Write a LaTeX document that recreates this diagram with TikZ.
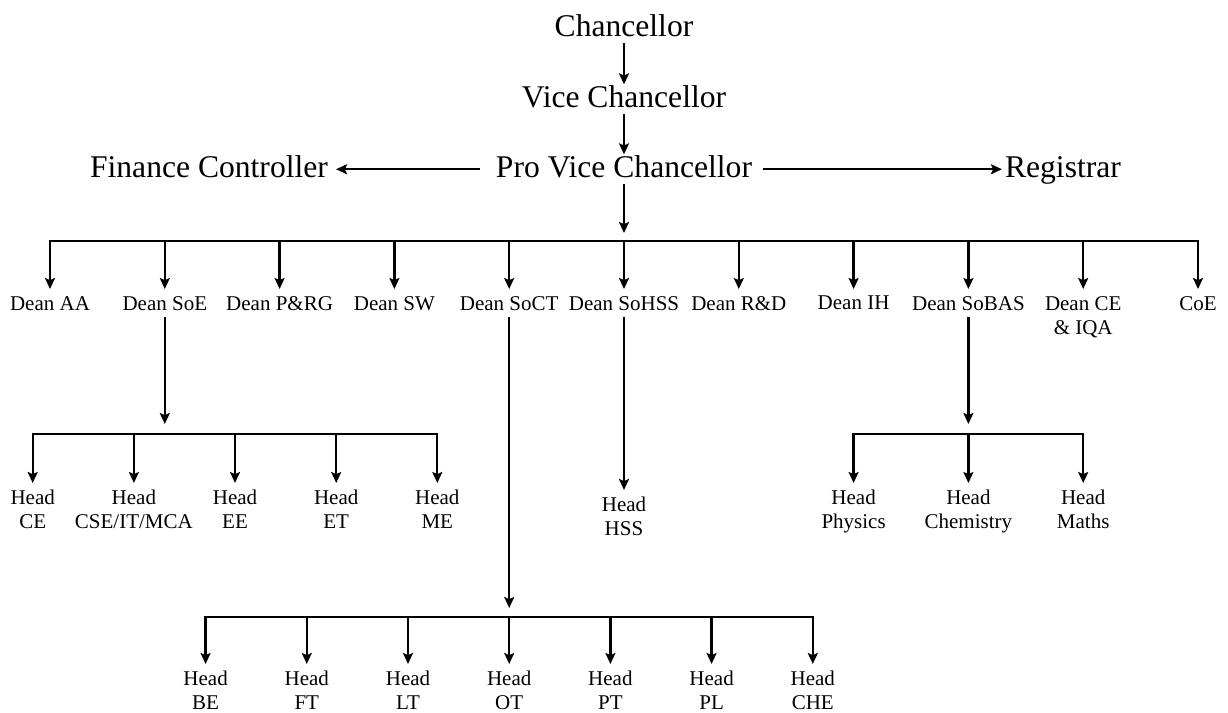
\documentclass[tikz,border=0pt]{standalone}
\usepackage{fontspec}
\setmainfont{Liberation Serif}
\usepackage{tikz}
\usetikzlibrary{positioning, arrows.meta}

\begin{document}
\begin{tikzpicture}
	[x=0.5pt, y=-0.5pt, line width=1.15pt, >={Stealth[length=5.5pt,width=5pt,inset=1.1pt]},
	 on grid, node distance=35.5pt,
	 officer/.style={font=\fontsize{15.8}{18}\selectfont, inner sep=0pt, text height=10.75pt, text depth=3pt},
	 unit/.style={font=\fontsize{10.5}{12}\selectfont, align=center, anchor=north, inner sep=3pt},
	 bus/.style={line cap=rect}]
   \useasboundingbox (0,0) rectangle (1228,713);
   % top of the chart
   \node[officer] (chan) at (624,28.25) {Chancellor};
   \node[officer] (vc)  [below=of chan] {Vice Chancellor};
   \node[officer] (pvc) [below=35pt of vc] {Pro Vice Chancellor};
   \node[officer] (fc)  [left=207.5pt of pvc] {Finance Controller};
   \node[officer] (reg) [right=219.5pt of pvc] {Registrar};
   % deans
   \node[unit] (aa)    at (50,289)     {Dean AA};
   \node[unit] (soe)   at (164.8,289)  {Dean SoE};
   \node[unit] (prg)   at (279.6,289)  {Dean P\&RG};
   \node[unit] (sw)    at (394.4,289)  {Dean SW};
   \node[unit] (soct)  at (509.2,289)  {Dean SoCT};
   \node[unit] (sohss) at (624,289)    {Dean SoHSS};
   \node[unit] (rd)    at (738.8,289)  {Dean R\&D};
   \node[unit] (ih)    at (853.6,289)  {Dean IH};
   \node[unit] (sobas) at (968.4,289)  {Dean SoBAS};
   \node[unit] (ceiqa) at (1083.2,289) {Dean CE\\\& IQA};
   \node[unit] (coe)   at (1198,289)   {CoE};
   % heads under SoE
   \node[unit] (hce)   at (32.7,483)   {Head\\CE};
   \node[unit] (hcse)  at (133.9,483)  {Head\\CSE/IT/MCA};
   \node[unit] (hee)   at (235,483)    {Head\\EE};
   \node[unit] (het)   at (336.2,483)  {Head\\ET};
   \node[unit] (hme)   at (437.3,483)  {Head\\ME};
   % heads under SoHSS and SoBAS
   \node[unit] (hhss)  at (624,490)    {Head\\HSS};
   \node[unit] (hphy)  at (853.6,483)  {Head\\Physics};
   \node[unit] (hchem) at (968.4,483)  {Head\\Chemistry};
   \node[unit] (hmath) at (1083.2,483) {Head\\Maths};
   % heads under SoCT
   \node[unit] (hbe)   at (205.6,664)  {Head\\BE};
   \node[unit] (hft)   at (306.8,664)  {Head\\FT};
   \node[unit] (hlt)   at (408,664)    {Head\\LT};
   \node[unit] (hot)   at (509.2,664)  {Head\\OT};
   \node[unit] (hpt)   at (610.4,664)  {Head\\PT};
   \node[unit] (hpl)   at (711.6,664)  {Head\\PL};
   \node[unit] (hche)  at (812.8,664)  {Head\\CHE};

   \coordinate (pvc tip) at (624,233);
   \coordinate (dean bus) at (624,241);
   \coordinate (soe tip) at (164.8,424);
   \coordinate (soe bus) at (164.8,434);
   \coordinate (soct tip) at (509.2,608);
   \coordinate (soct bus) at (509.2,617);
   \coordinate (sobas tip) at (968.4,424);
   \coordinate (sobas bus) at (968.4,434);

   \path[->] (chan) edge (vc)
             (vc) edge (pvc)
             (pvc) edge[shorten <=7.5pt, shorten >=3.5pt] (fc)
             (pvc) edge[shorten <=5pt, shorten >=1pt] (reg)
             (pvc) edge (pvc tip)
             (soe) edge (soe tip)
             (soct) edge (soct tip)
             (sohss) edge (hhss)
             (sobas) edge (sobas tip);

   \draw[bus] (aa |- dean bus) -- (coe |- dean bus);
   \foreach \d in {aa,soe,prg,sw,soct,sohss,rd,ih,sobas,ceiqa,coe}
     \draw[->] (\d |- dean bus) -- (\d);

   \draw[bus] (hce |- soe bus) -- (hme |- soe bus);
   \foreach \h in {hce,hcse,hee,het,hme}
     \draw[->] (\h |- soe bus) -- (\h);

   \draw[bus] (hbe |- soct bus) -- (hche |- soct bus);
   \foreach \h in {hbe,hft,hlt,hot,hpt,hpl,hche}
     \draw[->] (\h |- soct bus) -- (\h);

   \draw[bus] (hphy |- sobas bus) -- (hmath |- sobas bus);
   \foreach \h in {hphy,hchem,hmath}
     \draw[->] (\h |- sobas bus) -- (\h);
\end{tikzpicture}
\end{document}
